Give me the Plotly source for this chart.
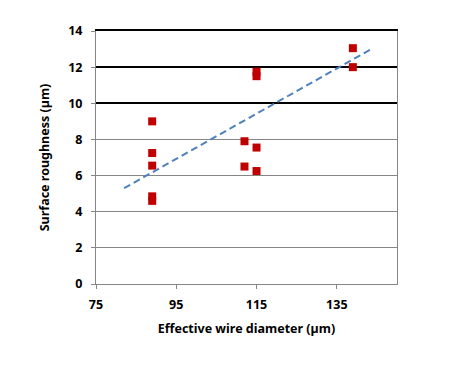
import plotly.graph_objects as go

# effective wire diameter (um) and surface roughness (um)
diameter = [89, 89, 89, 89, 89, 112, 112, 115, 115, 115, 115, 139, 139]
roughness = [9.0, 7.25, 6.55, 4.85, 4.6, 7.9, 6.5, 7.55, 6.25, 11.75, 11.5, 13.05, 12.0]

# linear trendline end points as drawn
trend_x = [82, 144]
trend_y = [5.3, 13.05]

x_ticks = [75, 95, 115, 135]
y_ticks = [0, 2, 4, 6, 8, 10, 12, 14]
dark_grid = [10, 12, 14]

font = "Noto Sans"
axis_grey = '#868686'

fig = go.Figure()
fig.add_trace(go.Scatter(
    x=diameter, y=roughness, mode='markers',
    marker={'symbol': 'square', 'size': 8, 'color': '#C00000'},
    showlegend=False,
))
fig.add_trace(go.Scatter(
    x=trend_x, y=trend_y, mode='lines',
    line={'color': '#4F81BD', 'width': 2, 'dash': '7px,4px'},
    showlegend=False,
))
# empty trace only to carry the darker upper gridlines and the top border
fig.add_trace(go.Scatter(x=[None], y=[None], xaxis='x2', yaxis='y2', showlegend=False))

# page body has an 8px margin, so the figure is a bit smaller than the window
fig.update_layout(
    width=467, height=358,
    margin={'l': 88, 'r': 78, 't': 23, 'b': 82},
    paper_bgcolor='white', plot_bgcolor='white',
    font={'family': font, 'size': 12, 'color': 'black'},
    xaxis={
        'range': [75, 150], 'tickvals': x_ticks,
        'showgrid': False, 'zeroline': False,
        'showline': True, 'linecolor': axis_grey, 'linewidth': 1, 'mirror': False,
        'ticks': 'outside', 'ticklen': 4, 'tickcolor': axis_grey,
        'ticklabelstandoff': 5,
        'tickfont': {'family': font, 'size': 12.5, 'weight': 'bold'},
        'title': {'text': 'Effective wire diameter (µm)', 'standoff': 12,
                  'font': {'family': font, 'size': 12.5, 'weight': 'bold'}},
    },
    xaxis2={
        'range': [75, 150], 'overlaying': 'x', 'side': 'top',
        'showline': True, 'linecolor': 'black', 'linewidth': 1.5,
        'showgrid': False, 'zeroline': False, 'showticklabels': False, 'ticks': '',
    },
    yaxis={
        'range': [0, 14], 'tickvals': y_ticks,
        'showgrid': True, 'gridcolor': axis_grey, 'gridwidth': 1,
        'zeroline': False,
        'showline': True, 'linecolor': axis_grey, 'linewidth': 1, 'mirror': True,
        'ticks': 'outside', 'ticklen': 4, 'tickcolor': axis_grey,
        'ticklabelstandoff': 6,
        'tickfont': {'family': font, 'size': 12.5, 'weight': 'bold'},
        'title': {'text': 'Surface roughness (µm)', 'standoff': 15,
                  'font': {'family': font, 'size': 12.5, 'weight': 'bold'}},
    },
    yaxis2={
        'range': [0, 14], 'tickvals': dark_grid, 'overlaying': 'y',
        'showgrid': True, 'gridcolor': 'black', 'gridwidth': 1.5,
        'showticklabels': False, 'zeroline': False, 'showline': False,
    },
)

fig.write_html("out.html")
